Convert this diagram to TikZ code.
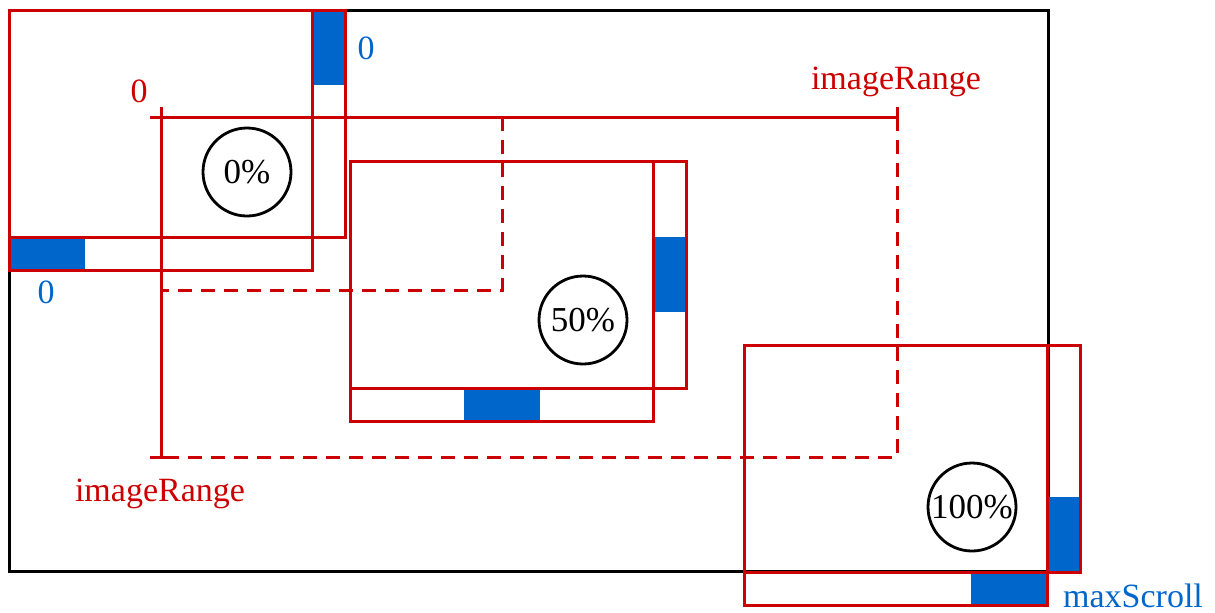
\documentclass[tikz,border=0pt]{standalone}
\usepackage{fontspec}
\setmainfont{Liberation Serif}
\usetikzlibrary{positioning, calc}
\definecolor{frameRed}{RGB}{204,0,0}
\definecolor{thumbBlue}{RGB}{0,102,204}

\begin{document}
\begin{tikzpicture}[
      x=0.5pt, y=-0.5pt,
      screen/.style={draw=black, line width=1.5pt},
      view/.style={draw=frameRed, line width=1.5pt},
      thumb/.style={fill=thumbBlue},
      rangeline/.style={draw=frameRed, line width=1.5pt},
      rangedash/.style={rangeline, dash pattern=on 7pt off 4.5pt},
      pct/.style={
        circle, draw=black, line width=1.4pt, fill=none,
        minimum size=44pt, inner sep=0pt, font=\fontsize{17.5}{20}\selectfont
      },
      redlabel/.style={text=frameRed, inner sep=0pt, font=\fontsize{17}{20}\selectfont},
      bluelabel/.style={text=thumbBlue, inner sep=0pt, font=\fontsize{17}{20}\selectfont}
    ]
      \useasboundingbox (0,0) rectangle (1215,612);
      % --- Screen ---
      \draw[screen] (9,10) rectangle (1048,571);
      % --- Image range and the dashed corners ---
      \coordinate (rangeTL) at (161,117);
      \coordinate (rangeBR) at (897,457);
      \coordinate (halfBR)  at (502,290);
      \draw[rangedash] (rangeBR |- rangeTL) -- (rangeBR) -- (rangeTL |- rangeBR);
      \draw[rangedash] (halfBR |- rangeTL) -- (halfBR) -- (rangeTL |- halfBR);
      \draw[rangeline] ($(rangeTL)+(0,-10)$) -- (rangeTL |- rangeBR);
      \draw[rangeline] ($(rangeTL)+(-11,0)$) -- (rangeBR |- rangeTL);
      \draw[rangeline] ($(rangeBR |- rangeTL)+(0,-10)$) -- ++(0,21);
      \draw[rangeline] ($(rangeTL |- rangeBR)+(-11,0)$) -- ++(22,0);
      % --- Views at 0%, 50%, 100% with their scroll bars ---
      \foreach \fx/\fy/\p/\cx/\cy/\pname in {9/10/0/247/172/0, 350/161/0.5/583/320/50, 744/345/1/972/507/100} {
        \fill[thumb] ({\fx+\p*227},{\fy+227}) rectangle ++(76,33);
        \fill[thumb] ({\fx+303},{\fy+\p*152}) rectangle ++(33,75);
        \draw[view] (\fx,\fy) rectangle ++(303,260);
        \draw[view] (\fx,\fy) rectangle ++(336,227);
        \node[pct] (pct\pname) at (\cx,\cy) {\pname\%};
      }
      % --- Labels ---
      \node[redlabel]  (rangeStart) at (139,91)   {0};
      \node[redlabel]  (rangeTop)   at (896,82)   {imageRange};
      \node[redlabel]  (rangeLeft)  at (160,494)  {imageRange};
      \node[bluelabel] (scrollV)    at (366,48)   {0};
      \node[bluelabel] (scrollH)    at (46,292)   {0};
      \node[bluelabel] (scrollMax)  at (1133,596) {maxScroll};
    \end{tikzpicture}
\end{document}
